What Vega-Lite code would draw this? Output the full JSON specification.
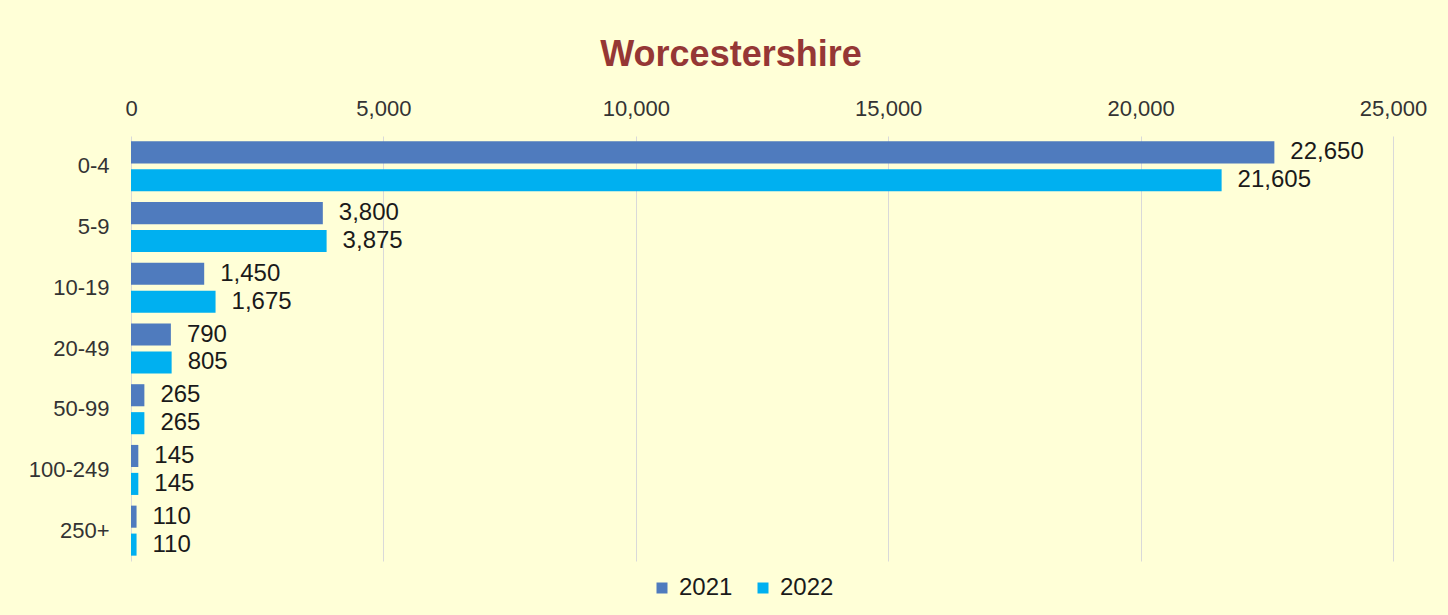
{
  "$schema": "https://vega.github.io/schema/vega-lite/v6.json",
  "width": 1262,
  "height": 425,
  "autosize": {"type": "none"},
  "padding": {"left": 131, "top": 136, "right": 55, "bottom": 54},
  "background": "#FFFFD7",
  "config": {"view": {"stroke": null}, "font": "Liberation Sans"},
  "title": {
    "text": "Worcestershire",
    "color": "#953735",
    "fontSize": 36,
    "font": "Liberation Sans",
    "fontWeight": "bold",
    "anchor": "middle",
    "offset": 23,
    "dx": -31
  },
  "data": {
    "values": [
      {"size": "0-4", "year": "2021", "count": 22650},
      {"size": "0-4", "year": "2022", "count": 21605},
      {"size": "5-9", "year": "2021", "count": 3800},
      {"size": "5-9", "year": "2022", "count": 3875},
      {"size": "10-19", "year": "2021", "count": 1450},
      {"size": "10-19", "year": "2022", "count": 1675},
      {"size": "20-49", "year": "2021", "count": 790},
      {"size": "20-49", "year": "2022", "count": 805},
      {"size": "50-99", "year": "2021", "count": 265},
      {"size": "50-99", "year": "2022", "count": 265},
      {"size": "100-249", "year": "2021", "count": 145},
      {"size": "100-249", "year": "2022", "count": 145},
      {"size": "250+", "year": "2021", "count": 110},
      {"size": "250+", "year": "2022", "count": 110}
    ]
  },
  "encoding": {
    "y": {
      "field": "size",
      "type": "nominal",
      "sort": ["0-4", "5-9", "10-19", "20-49", "50-99", "100-249", "250+"],
      "scale": {"paddingInner": 0.176, "paddingOuter": 0.088},
      "axis": {
        "title": null,
        "domain": false,
        "ticks": false,
        "labelPadding": 22,
        "labelFontSize": 22,
        "labelColor": "#333333",
        "labelFont": "Liberation Sans"
      }
    },
    "yOffset": {
      "field": "year",
      "type": "nominal",
      "scale": {"paddingInner": 0.21, "paddingOuter": 0}
    },
    "x": {
      "field": "count",
      "type": "quantitative",
      "scale": {"domain": [0, 25000], "nice": false},
      "axis": {
        "orient": "top",
        "title": null,
        "domain": false,
        "ticks": false,
        "values": [0, 5000, 10000, 15000, 20000, 25000],
        "labelExpr": "format(datum.value, ',')",
        "labelFlush": false,
        "labelPadding": 16,
        "labelFontSize": 22,
        "labelColor": "#333333",
        "labelFont": "Liberation Sans",
        "gridColor": "#D9D9D9",
        "gridWidth": 1
      }
    }
  },
  "layer": [
    {
      "mark": {"type": "bar"},
      "encoding": {
        "color": {
          "field": "year",
          "type": "nominal",
          "scale": {"domain": ["2021", "2022"], "range": ["#4F7BBE", "#00B0F0"]},
          "legend": {
            "orient": "none",
            "legendX": 519,
            "legendY": 440,
            "direction": "horizontal",
            "title": null,
            "symbolType": "square",
            "symbolSize": 121,
            "symbolStrokeWidth": 0,
            "labelFontSize": 24,
            "labelColor": "#1a1a1a",
            "labelFont": "Liberation Sans",
            "columnPadding": 18,
            "labelOffset": 5
          }
        }
      }
    },
    {
      "mark": {"type": "text", "align": "left", "baseline": "middle", "dx": 16, "fontSize": 24, "color": "#1a1a1a", "font": "Liberation Sans"},
      "encoding": {
        "text": {"field": "count", "type": "quantitative", "format": ","}
      }
    }
  ]
}
